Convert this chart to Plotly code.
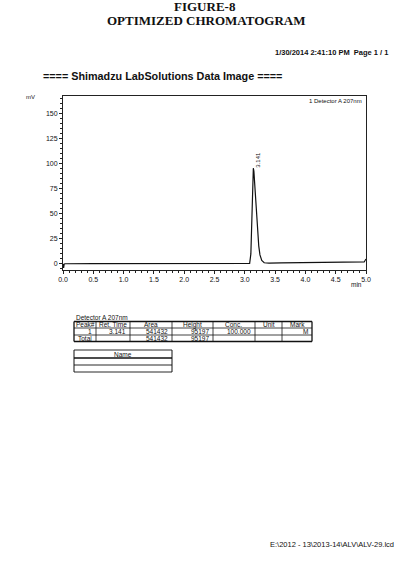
import plotly.graph_objects as go

# ---- data ----
time_min = [0.0, 0.01, 0.02, 0.04, 0.5, 1.0, 1.5, 2.0, 2.5, 2.9, 3.0, 3.05, 3.08, 3.10,
            3.12, 3.135, 3.141, 3.15, 3.17, 3.19, 3.21, 3.23, 3.25, 3.28, 3.32, 3.4,
            3.6, 4.0, 4.5, 4.9, 4.97, 5.0]
signal_mv = [0.0, -4.0, 0.0, 0.2, 0.3, 0.4, 0.5, 0.5, 0.4, 0.3, 0.3, 0.4, 0.6, 10.0,
             55.0, 92.0, 95.2, 92.0, 72.0, 50.0, 32.0, 18.0, 9.0, 3.5, 1.2, 0.9,
             1.0, 1.2, 1.4, 1.6, 2.0, 5.0]
peak_time = 3.141
peak_label = "3.141"

x_ticks = [0.0, 0.5, 1.0, 1.5, 2.0, 2.5, 3.0, 3.5, 4.0, 4.5, 5.0]
x_tick_text = ["0.0", "0.5", "1.0", "1.5", "2.0", "2.5", "3.0", "3.5", "4.0", "4.5", "5.0"]
y_ticks = [0, 25, 50, 75, 100, 125, 150]

table_title = "Detector A 207nm"
table_headers = ["Peak#", "Ret. Time", "Area", "Height", "Conc.", "Unit", "Mark"]
table_row1 = ["1", "3.141", "541432", "95197", "100.000", "", "M"]
table_total = ["Total", "", "541432", "95197", "", "", ""]
name_header = "Name"

W, H = 394, 577
L, R, T, B = 63, 366, 96, 270

def px(x):
    return (x - L) / (R - L)

def py(y):
    return (B - y) / (B - T)

FS = "Liberation Sans"
fig = go.Figure()
fig.add_trace(go.Scatter(x=time_min, y=signal_mv, mode="lines",
                         line=dict(color="#111", width=1.2), hoverinfo="skip"))

axis_common = dict(showline=True, linecolor="#222", linewidth=1, mirror=True,
                   showgrid=False, zeroline=False, ticks="outside", ticklen=3,
                   tickcolor="#222", tickfont=dict(family=FS, size=7, color="#111"))
fig.update_xaxes(range=[0, 5.0], tickvals=x_ticks, ticktext=x_tick_text,
                 minor=dict(dtick=0.1, ticks="outside", ticklen=2, tickcolor="#222"),
                 **axis_common)
fig.update_yaxes(range=[-6, 167], tickvals=y_ticks,
                 minor=dict(dtick=5, ticks="outside", ticklen=2, tickcolor="#222"),
                 **axis_common)

ann = []
def text(x, y, s, size=7, xanchor="center", bold=False, family=FS, color="#111"):
    ann.append(dict(x=px(x), y=py(y), xref="paper", yref="paper", text=(f"<b>{s}</b>" if bold else s),
                    showarrow=False, xanchor=xanchor, yanchor="middle",
                    font=dict(family=family, size=size, color=color)))

text(205, 7, "FIGURE-8", size=13, bold=True, family="Liberation Serif")
text(206, 21, "OPTIMIZED CHROMATOGRAM", size=13, bold=True, family="Liberation Serif")
text(390, 53, "1/30/2014 2:41:10 PM&nbsp;&nbsp;Page 1 / 1", size=7.5, xanchor="right", bold=True)
text(162, 76, "==== Shimadzu LabSolutions Data Image ====", size=10.8, bold=True)
text(30, 97, "mV", size=6)
text(364, 101, "1 Detector A 207nm", size=6, xanchor="right")
text(364, 284, "min", size=6.5, xanchor="right")
text(268, 544, r"E:\2012 - 13\2013-14\ALV\ALV-29.lcd", size=7.5, xanchor="left")
text(74, 317, table_title, size=6.5, xanchor="left")

# peak label (rotated)
ann.append(dict(x=peak_time, y=104, xref="x", yref="y", text=peak_label, showarrow=False,
                textangle=-90, xshift=5, font=dict(family=FS, size=6, color="#111")))

shapes = []
def line(x0, y0, x1, y1, w=1):
    shapes.append(dict(type="line", xref="paper", yref="paper", x0=px(x0), y0=py(y0),
                       x1=px(x1), y1=py(y1), line=dict(color="#111", width=w)))

col_edges = [74, 96, 130, 172, 213, 255, 282, 312]
row_edges = [321.5, 328, 335, 341.5]
for i, xe in enumerate(col_edges):
    line(xe, row_edges[0], xe, row_edges[-1], 1.3 if i in (0, len(col_edges) - 1) else 0.8)
for i, ye in enumerate(row_edges):
    line(col_edges[0], ye, col_edges[-1], ye, 1.3 if i in (0, len(row_edges) - 1) else 0.8)

rows = [table_headers, table_row1, table_total]
for r, row in enumerate(rows):
    yc = (row_edges[r] + row_edges[r + 1]) / 2
    for c, val in enumerate(row):
        if not val:
            continue
        x0, x1 = col_edges[c], col_edges[c + 1]
        if r == 0 or (r == 2 and c == 0):
            text((x0 + x1) / 2, yc, val, size=6.5)
        else:
            text(x1 - 2, yc, val, size=6.5, xanchor="right")

name_x = [74, 172]
name_y = [350, 358, 365, 372]
line(name_x[0], name_y[0], name_x[0], name_y[-1], 1)
line(name_x[1], name_y[0], name_x[1], name_y[-1], 1)
for i, ye in enumerate(name_y):
    line(name_x[0], ye, name_x[1], ye, 1.3 if i == 1 else 0.9)
text(123, 354, name_header, size=6.5)

fig.update_layout(width=W, height=H, margin=dict(l=L, r=W - R, t=T, b=H - B),
                  paper_bgcolor="white", plot_bgcolor="white", showlegend=False,
                  annotations=ann, shapes=shapes)
fig.write_html("out.html")
